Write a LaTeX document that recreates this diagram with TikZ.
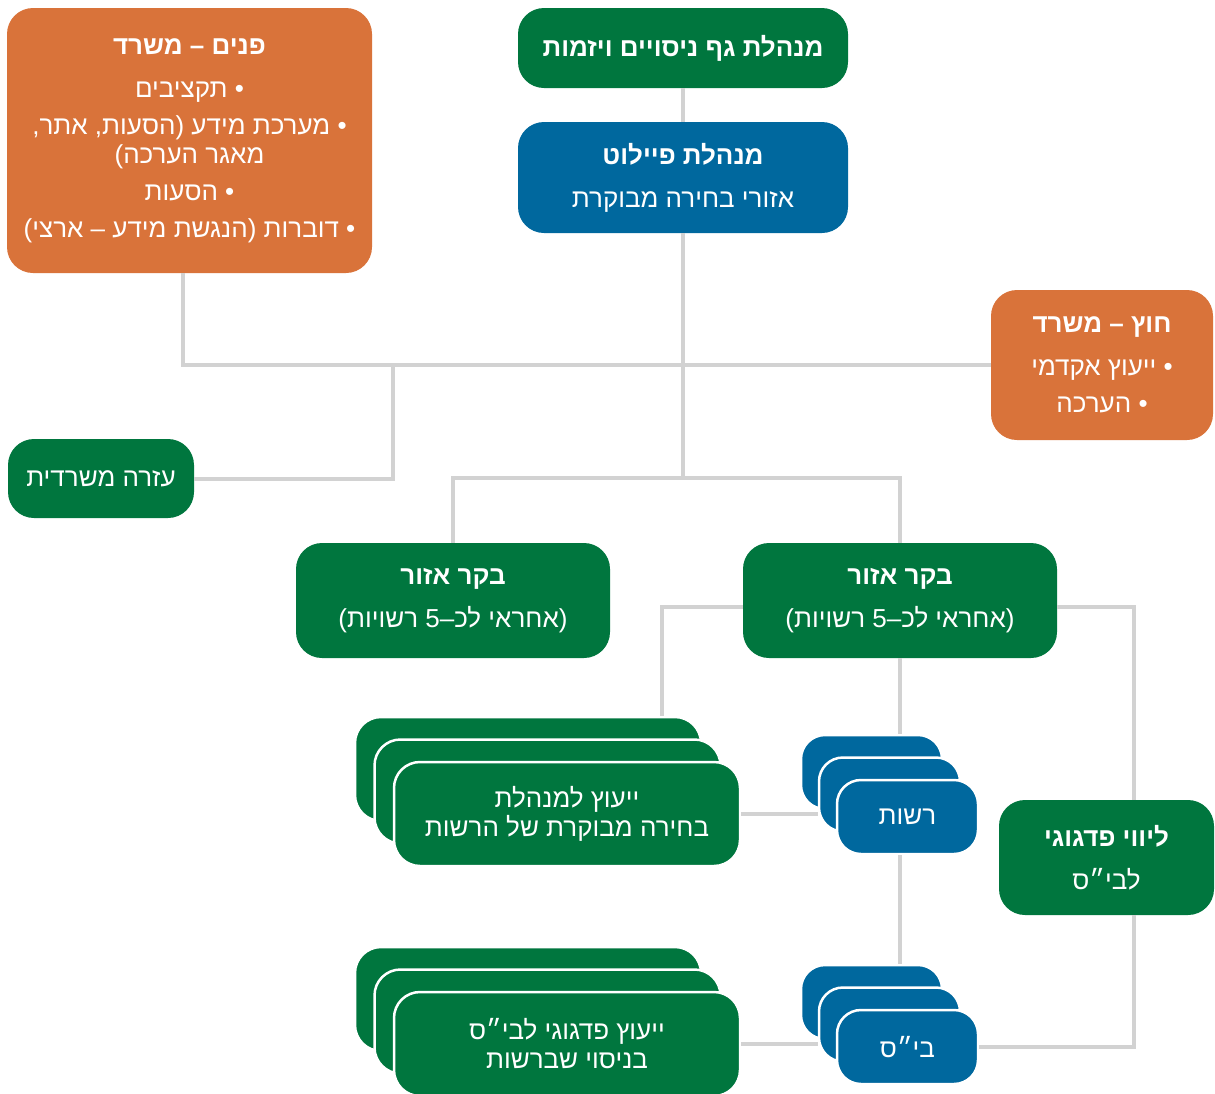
\documentclass[tikz,border=0pt]{standalone}
\usepackage{fontspec}
\setmainfont{Liberation Sans}[Script=Hebrew]
\TeXXeTstate=1
\usepackage{tikz}

\definecolor{ogreen}{RGB}{0,118,62}
\definecolor{oblue}{RGB}{0,104,158}
\definecolor{oorange}{RGB}{217,115,58}
\definecolor{linkgray}{RGB}{210,210,210}

\newcommand{\HebLine}[1]{\beginR #1\endR}

\begin{document}
\begin{tikzpicture}[x=1pt,y=-1pt,
		box/.style={rounded corners=26pt,text=white,align=center,inner sep=0pt,font=\fontsize{26}{29}\selectfont},
		greenbox/.style={box,fill=ogreen},
		bluebox/.style={box,fill=oblue},
		orangebox/.style={box,fill=oorange},
		stackbox/.style={draw=white,line width=2.5pt},
		link/.style={draw=linkgray,line width=4pt}]
		\useasboundingbox (0,0) rectangle (1215,1093);

		% Top of the chart
		\node[greenbox,minimum width=330pt,minimum height=80pt] (gaf) at (683,48) {\HebLine{\textbf{מנהלת גף ניסויים ויזמות}}};
		\node[bluebox,minimum width=330pt,minimum height=111pt] (pilot) at (683,177.5) {\HebLine{\textbf{מנהלת פיילוט}}\\[14pt] \HebLine{אזורי בחירה מבוקרת}};

		% Ministry, inside and outside
		\node[orangebox,minimum width=365pt,minimum height=265pt] (pnim) at (189.5,140.5) {\HebLine{\textbf{פנים – משרד}}\\[14pt] \HebLine{• תקציבים}\\[8pt] \HebLine{• מערכת מידע (הסעות, אתר,}\\ \HebLine{מאגר הערכה)}\\[8pt] \HebLine{• הסעות}\\[8pt] \HebLine{• דוברות (הנגשת מידע – ארצי)}};
		\node[orangebox,minimum width=222pt,minimum height=150pt] (hutz) at (1102,365) {\HebLine{\textbf{חוץ – משרד}}\\[14pt] \HebLine{• ייעוץ אקדמי}\\[8pt] \HebLine{• הערכה}};
		\node[greenbox,minimum width=186pt,minimum height=79pt] (ezra) at (101,478.5) {\HebLine{עזרה משרדית}};

		% Area supervisors
		\node[greenbox,minimum width=314pt,minimum height=115pt] (bakarL) at (453,600.5) {\HebLine{\textbf{בקר אזור}}\\[14pt] \HebLine{(אחראי לכ–5 רשויות)}};
		\node[greenbox,minimum width=314pt,minimum height=115pt] (bakarR) at (900,600.5) {\HebLine{\textbf{בקר אזור}}\\[14pt] \HebLine{(אחראי לכ–5 רשויות)}};
		\node[greenbox,minimum width=215pt,minimum height=115pt] (liuy) at (1106.5,857.5) {\HebLine{\textbf{ליווי פדגוגי}}\\[14pt] \HebLine{לבי״ס}};

		% Stacks
		\foreach \k in {2,1}{
			\node[greenbox,stackbox,minimum width=346pt,minimum height=104pt] (advA\k) at (567-19.5*\k,814-22.5*\k) {};
			\node[greenbox,stackbox,minimum width=346pt,minimum height=104pt] (advB\k) at (567-19.5*\k,1044-22.5*\k) {};
			\node[bluebox,stackbox,rounded corners=24pt,minimum width=141pt,minimum height=74pt] (muni\k) at (907.5-18*\k,817-22.5*\k) {};
			\node[bluebox,stackbox,rounded corners=24pt,minimum width=141pt,minimum height=74pt] (school\k) at (907.5-18*\k,1047-22.5*\k) {};
		}
		\node[greenbox,stackbox,minimum width=346pt,minimum height=104pt] (advA0) at (567,814) {\HebLine{ייעוץ למנהלת}\\ \HebLine{בחירה מבוקרת של הרשות}};
		\node[greenbox,stackbox,minimum width=346pt,minimum height=104pt] (advB0) at (567,1044) {\HebLine{ייעוץ פדגוגי לבי״ס}\\ \HebLine{בניסוי שברשות}};
		\node[bluebox,stackbox,rounded corners=24pt,minimum width=141pt,minimum height=74pt] (muni0) at (907.5,817) {\HebLine{רשות}};
		\node[bluebox,stackbox,rounded corners=24pt,minimum width=141pt,minimum height=74pt] (school0) at (907.5,1047) {\HebLine{בי״ס}};

		% Connectors
		\coordinate (split) at (683,478);
		\coordinate (ezraknee) at (393,365);
		\draw[link] (gaf) -- (pilot);
		\draw[link] (pilot) -- (split);
		\draw[link] ([xshift=-7pt]pnim.south) |- (hutz.west);
		\draw[link] (ezra.east) -| (ezraknee);
		\draw[link] (bakarL.north) |- (split) -| (bakarR.north);
		\draw[link] ([yshift=-6pt]bakarR.west) -| ([xshift=-40pt]advA2.north east);
		\draw[link] ([yshift=-6pt]bakarR.east) -| ([xshift=27pt]liuy.north);
		\draw[link] (bakarR.south) -- (bakarR.south |- muni2.north);
		\draw[link] (bakarR.south |- muni0.south) -- (bakarR.south |- school2.north);
		\draw[link] (advA0.east) -- (advA0.east -| muni1.west);
		\draw[link] (advB0.east) -- (advB0.east -| school1.west);
		\draw[link] (school0.east) -| ([xshift=27pt]liuy.south);
	\end{tikzpicture}
\end{document}
